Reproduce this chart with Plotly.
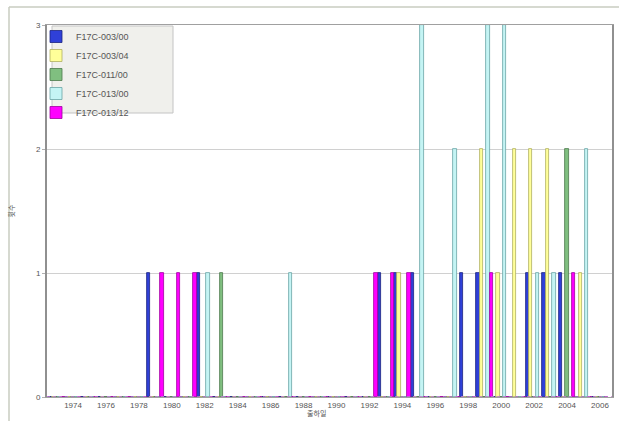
import plotly.graph_objects as go

years = list(range(1973, 2007))
series_names = ["F17C-003/00", "F17C-003/04", "F17C-011/00", "F17C-013/00", "F17C-013/12"]

f17c_003_00 = [0,0,0,0,0,0,1,0,0,1, 0,0,0,0,0,0,0,0,0,0, 1,1,1,0,0,1,1,0,0,1, 1,1,0,0]
f17c_003_04 = [0,0,0,0,0,0,0,0,0,0, 0,0,0,0,0,0,0,0,0,0, 0,1,0,0,0,0,2,1,2,2, 2,0,1,0]
f17c_011_00 = [0,0,0,0,0,0,0,0,0,0, 1,0,0,0,0,0,0,0,0,0, 0,0,0,0,0,0,0,0,0,0, 0,2,0,0]
f17c_013_00 = [0,0,0,0,0,0,0,0,0,1, 0,0,0,0,1,0,0,0,0,0, 0,0,3,0,2,0,3,3,0,1, 1,0,2,0]
f17c_013_12 = [0,0,0,0,0,0,1,1,1,0, 0,0,0,0,0,0,0,0,0,1, 1,1,0,0,0,0,1,0,0,0, 0,1,0,0]

values = [f17c_003_00, f17c_003_04, f17c_011_00, f17c_013_00, f17c_013_12]
fills = ["#2f40d8", "#ffff99", "#80bf80", "#c4f4f4", "#ff00ff"]
edges = ["#1a2380", "#b0b060", "#4c7a4c", "#6aa4a6", "#a000a0"]

x_ticks = list(range(1974, 2007, 2))
y_ticks = [0, 1, 2, 3]

fig = go.Figure()
for name, vals, fc, ec in zip(series_names, values, fills, edges):
    fig.add_trace(go.Bar(
        x=years, y=vals, name=name,
        marker=dict(color=fc, line=dict(color=ec, width=0.8)),
    ))

W, H = 619, 421
L, R, T, B = 47, 7, 25, 24
pw, ph = W - L - R, H - T - B

def px(x):
    return (x - L) / pw

def py(y):
    return (H - B - y) / ph

fig.update_layout(
    width=W, height=H,
    margin=dict(l=L, r=R, t=T, b=B, pad=0),
    paper_bgcolor="white", plot_bgcolor="white",
    barmode="group", bargap=0, bargroupgap=0,
    font=dict(family="Liberation Sans, Arial, sans-serif", size=9, color="#555555"),
    showlegend=True,
    legend=dict(
        x=px(36), y=py(22), xanchor="left", yanchor="top",
        bgcolor="rgba(0,0,0,0)", borderwidth=0,
        font=dict(size=9, color="#555555"),
        tracegroupgap=0, itemwidth=30,
    ),
    xaxis=dict(
        range=[1972.42, 2006.73], automargin=False,
        tickmode="array", tickvals=x_ticks, ticktext=[str(t) for t in x_ticks],
        showgrid=False, zeroline=False,
        showline=True, linecolor="#a0a0a0", linewidth=1, mirror=True,
        ticks="", tickfont=dict(size=8, color="#555555"),
    ),
    yaxis=dict(
        range=[0, 3], automargin=False,
        tickmode="array", tickvals=y_ticks,
        showgrid=True, gridcolor="#d0d0d0", gridwidth=1, zeroline=False,
        showline=True, linecolor="#909090", linewidth=2, mirror=True,
        ticks="outside", ticklen=3, tickcolor="#b0b0b0",
        tickfont=dict(size=8, color="#555555"),
        title=dict(text="횟수", font=dict(family="Noto Sans CJK KR", size=7, color="#555555"), standoff=20),
    ),
    annotations=[
        dict(text="출하일", xref="paper", yref="paper", x=px(316), y=py(413),
             xanchor="center", yanchor="middle", showarrow=False,
             font=dict(family="Noto Sans CJK KR", size=7, color="#555555")),
    ],
    shapes=[
        # legend box
        dict(type="rect", xref="paper", yref="paper",
             x0=px(52), x1=px(173), y0=py(113), y1=py(26),
             fillcolor="#f0f0ec", line=dict(color="#c4c4c4", width=1), layer="below"),
        # zero dashed line
        dict(type="line", xref="paper", yref="y", x0=0, x1=1, y0=0, y1=0,
             line=dict(color="#c87ad8", width=1.5, dash="dot"), layer="above"),
        # outer frame
        dict(type="line", xref="paper", yref="paper", x0=px(9), x1=px(619), y0=py(7), y1=py(7),
             line=dict(color="#c8ccc0", width=1.5)),
        dict(type="line", xref="paper", yref="paper", x0=px(9), x1=px(9), y0=py(7), y1=py(421),
             line=dict(color="#c8ccc0", width=1.5)),
    ],
)

fig.write_html("out.html", config={"displayModeBar": False},
               post_script="document.body.style.margin='0px';")
